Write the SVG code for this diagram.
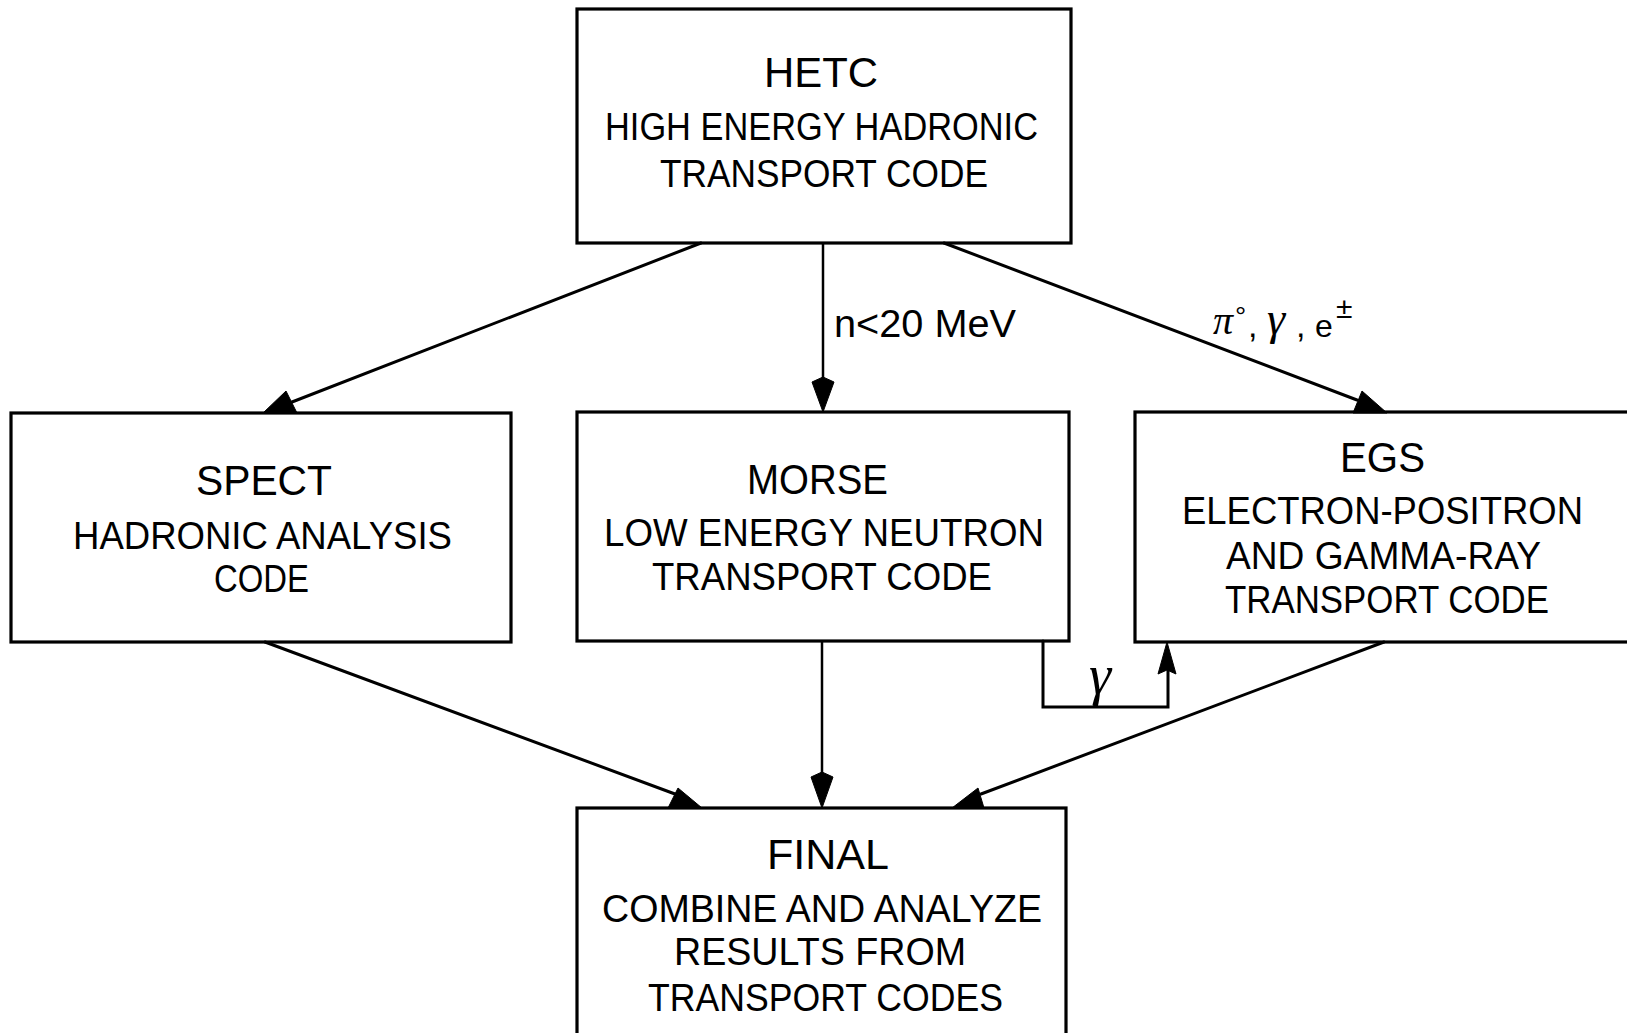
<svg xmlns="http://www.w3.org/2000/svg" width="1627" height="1033" viewBox="0 0 1627 1033">
<style>
.box{fill:none;stroke:#000;stroke-width:3.2}
.ln{fill:none;stroke:#000;stroke-width:3;stroke-linecap:round;stroke-linejoin:miter}
.vl{fill:none;stroke:#000;stroke-width:2.5}
.ah{fill:#000;stroke:#000;stroke-width:1}
text{font-family:"Liberation Sans",Arial,sans-serif;fill:#000}
.t{font-size:42px}
.s{font-size:38px}
.l{font-size:38px}
.g{font-family:"Liberation Serif","DejaVu Serif",serif;font-style:italic}
</style>
<rect width="1627" height="1033" fill="#fff"/>
<g id="connectors">
  <line class="ln" x1="701" y1="243" x2="292" y2="402"/>
  <polygon class="ah" points="263,413 286,391 297,413"/>
  <line class="vl" x1="823" y1="243" x2="823" y2="395"/>
  <polygon class="ah" points="812,382 823,377 834,382 823,412"/>
  <line class="ln" x1="944" y1="243" x2="1357" y2="400"/>
  <polygon class="ah" points="1353,413 1362,391 1387,413"/>
  <line class="ln" x1="265" y1="642" x2="675" y2="794"/>
  <polygon class="ah" points="668,808 678,788 702,808"/>
  <line class="vl" x1="822" y1="641" x2="822" y2="790"/>
  <polygon class="ah" points="811,777 822,772 833,777 822,808"/>
  <line class="ln" x1="1384" y1="642" x2="981" y2="794"/>
  <polygon class="ah" points="952,808 978,788 984,808"/>
  <polyline class="ln" points="1043,641 1043,707 1168,707 1168,665"/>
  <polygon class="ah" points="1167,642 1158,674 1167,670 1176,674"/>
  <text class="l" x="834" y="337" textLength="182" lengthAdjust="spacingAndGlyphs">n&lt;20 MeV</text>
  <text class="g" x="1213" y="334" font-size="40">π</text>
  <text x="1235" y="326" font-size="28">°</text>
  <text x="1248" y="337" font-size="34">,</text>
  <text class="g" x="1267" y="334" font-size="46">γ</text>
  <text x="1296" y="337" font-size="34">,</text>
  <text x="1315" y="337" font-size="32">e</text>
  <text x="1336" y="318" font-size="30">±</text>
  <text class="g" x="1089" y="694" font-size="56">γ</text>
</g>
<g id="hetc">
  <rect class="box" x="577" y="9" width="494" height="234"/>
  <text class="t" x="764" y="87" textLength="114" lengthAdjust="spacingAndGlyphs">HETC</text>
  <text class="s" x="605" y="140" textLength="433" lengthAdjust="spacingAndGlyphs">HIGH ENERGY HADRONIC</text>
  <text class="s" x="660" y="187" textLength="328" lengthAdjust="spacingAndGlyphs">TRANSPORT CODE</text>
</g>
<g id="spect">
  <rect class="box" x="11" y="413" width="500" height="229"/>
  <text class="t" x="196" y="495" textLength="136" lengthAdjust="spacingAndGlyphs">SPECT</text>
  <text class="s" x="73" y="549" textLength="379" lengthAdjust="spacingAndGlyphs">HADRONIC ANALYSIS</text>
  <text class="s" x="214" y="592" textLength="95" lengthAdjust="spacingAndGlyphs">CODE</text>
</g>
<g id="morse">
  <rect class="box" x="577" y="412" width="492" height="229"/>
  <text class="t" x="747" y="494" textLength="141" lengthAdjust="spacingAndGlyphs">MORSE</text>
  <text class="s" x="604" y="546" textLength="440" lengthAdjust="spacingAndGlyphs">LOW ENERGY NEUTRON</text>
  <text class="s" x="652" y="590" textLength="340" lengthAdjust="spacingAndGlyphs">TRANSPORT CODE</text>
</g>
<g id="egs">
  <rect class="box" x="1135" y="412" width="510" height="230"/>
  <text class="t" x="1340" y="472" textLength="85" lengthAdjust="spacingAndGlyphs">EGS</text>
  <text class="s" x="1182" y="524" textLength="401" lengthAdjust="spacingAndGlyphs">ELECTRON-POSITRON</text>
  <text class="s" x="1226" y="569" textLength="315" lengthAdjust="spacingAndGlyphs">AND GAMMA-RAY</text>
  <text class="s" x="1225" y="613" textLength="324" lengthAdjust="spacingAndGlyphs">TRANSPORT CODE</text>
</g>
<g id="final">
  <rect class="box" x="577" y="808" width="489" height="260"/>
  <text class="t" x="767" y="869" textLength="122" lengthAdjust="spacingAndGlyphs">FINAL</text>
  <text class="s" x="602" y="922" textLength="440" lengthAdjust="spacingAndGlyphs">COMBINE AND ANALYZE</text>
  <text class="s" x="674" y="965" textLength="292" lengthAdjust="spacingAndGlyphs">RESULTS FROM</text>
  <text class="s" x="648" y="1011" textLength="355" lengthAdjust="spacingAndGlyphs">TRANSPORT CODES</text>
</g>
</svg>
